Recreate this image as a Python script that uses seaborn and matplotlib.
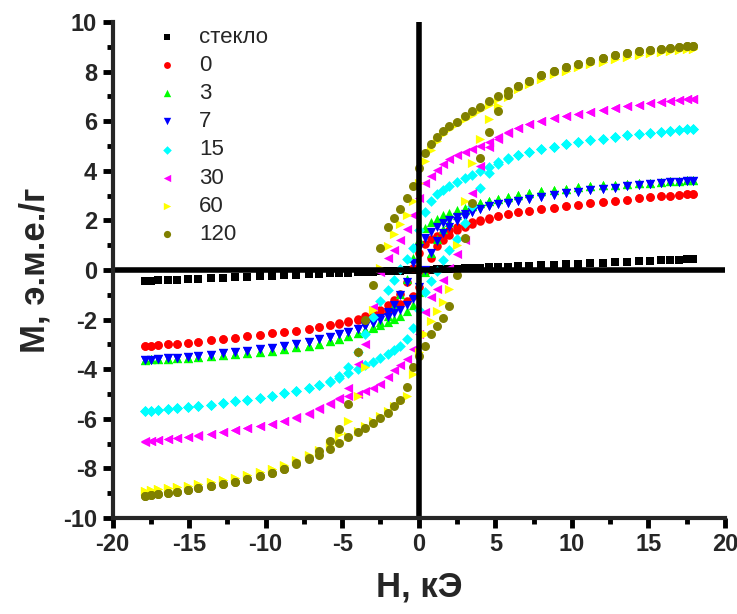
import matplotlib
matplotlib.use("Agg")
import matplotlib.pyplot as plt
import pandas as pd
import seaborn as sns
from matplotlib.ticker import MultipleLocator

# ---------------- data ----------------
H = [-17.9, -17.5, -17.0, -16.4, -15.8, -15.1, -14.4, -13.6, -12.8, -12.0,
     -11.2, -10.4, -9.6, -8.8, -8.0, -7.2, -6.5, -5.8, -5.2, -4.6,
     -4.0, -3.5, -3.0, -2.5, -2.0, -1.6, -1.2, -0.8, -0.4,
     0.0,
     0.4, 0.8, 1.2, 1.6, 2.0, 2.5, 3.0, 3.5, 4.0,
     4.6, 5.2, 5.8, 6.5, 7.2, 8.0, 8.8, 9.6, 10.4, 11.2,
     12.0, 12.8, 13.6, 14.4, 15.1, 15.8, 16.4, 17.0, 17.5, 17.9]

labels = ["стекло", "0", "3", "7", "15", "30", "60", "120"]

M_glass = [-0.44, -0.43, -0.42, -0.40, -0.39, -0.37, -0.35, -0.33, -0.31, -0.29,
           -0.27, -0.25, -0.23, -0.21, -0.19, -0.17, -0.16, -0.14, -0.13, -0.11,
           -0.10, -0.08, -0.07, -0.06, -0.05, -0.04, -0.03, -0.02, -0.01,
           0.00,
           0.01, 0.02, 0.03, 0.04, 0.05, 0.06, 0.07, 0.08, 0.10,
           0.11, 0.13, 0.14, 0.16, 0.17, 0.19, 0.21, 0.23, 0.25, 0.27,
           0.29, 0.31, 0.33, 0.35, 0.37, 0.39, 0.40, 0.42, 0.43, 0.44]

M0_down = [-3.07, -3.05, -3.03, -3.00, -2.97, -2.93, -2.89, -2.84, -2.79, -2.74,
           -2.68, -2.62, -2.56, -2.50, -2.44, -2.37, -2.30, -2.23, -2.15, -2.06,
           -1.96, -1.86, -1.74, -1.60, -1.42, -1.22, -0.95, -0.50, 0.10,
           0.70,
           1.05, 1.25, 1.38, 1.50, 1.60, 1.72, 1.83, 1.92, 2.00,
           2.10, 2.18, 2.26, 2.33, 2.39, 2.45, 2.51, 2.57, 2.63, 2.69,
           2.74, 2.79, 2.84, 2.89, 2.93, 2.97, 3.00, 3.03, 3.05, 3.06]
M0_up = [-3.07, -3.05, -3.03, -3.00, -2.97, -2.93, -2.89, -2.84, -2.79, -2.74,
         -2.68, -2.62, -2.56, -2.50, -2.44, -2.37, -2.30, -2.23, -2.16, -2.08,
         -2.00, -1.92, -1.83, -1.72, -1.60, -1.50, -1.38, -1.25, -1.05,
         -0.70,
         -0.10, 0.50, 0.95, 1.22, 1.42, 1.60, 1.74, 1.86, 1.96,
         2.07, 2.16, 2.24, 2.32, 2.39, 2.45, 2.51, 2.57, 2.63, 2.69,
         2.74, 2.79, 2.84, 2.89, 2.93, 2.97, 3.00, 3.03, 3.05, 3.06]

M3_down = [-3.61, -3.60, -3.59, -3.57, -3.55, -3.53, -3.50, -3.47, -3.43, -3.39,
           -3.35, -3.30, -3.25, -3.19, -3.12, -3.05, -2.97, -2.88, -2.78, -2.66,
           -2.54, -2.42, -2.28, -2.10, -1.85, -1.40, -0.95, -0.35, 0.50,
           1.25,
           1.70, 1.92, 2.07, 2.20, 2.30, 2.40, 2.50, 2.60, 2.70,
           2.80, 2.88, 2.95, 3.03, 3.10, 3.17, 3.23, 3.28, 3.33, 3.37,
           3.41, 3.44, 3.47, 3.50, 3.52, 3.55, 3.57, 3.59, 3.61, 3.62]
M3_up = [-3.61, -3.60, -3.59, -3.57, -3.55, -3.53, -3.50, -3.47, -3.43, -3.39,
         -3.35, -3.30, -3.25, -3.19, -3.12, -3.05, -2.97, -2.88, -2.78, -2.66,
         -2.54, -2.42, -2.32, -2.20, -2.08, -1.98, -1.85, -1.65, -1.40,
         -0.90,
         -0.10, 0.70, 1.25, 1.65, 1.95, 2.20, 2.40, 2.60, 2.70,
         2.80, 2.88, 2.95, 3.03, 3.10, 3.17, 3.23, 3.28, 3.33, 3.37,
         3.41, 3.44, 3.47, 3.50, 3.52, 3.55, 3.57, 3.59, 3.61, 3.62]

M7_down = [-3.63, -3.61, -3.59, -3.56, -3.53, -3.49, -3.45, -3.41, -3.36, -3.31,
           -3.26, -3.20, -3.13, -3.06, -2.98, -2.90, -2.80, -2.70, -2.60, -2.50,
           -2.38, -2.25, -2.12, -1.95, -1.70, -1.40, -1.00, -0.50, 0.30,
           0.90,
           1.30, 1.55, 1.75, 1.90, 2.00, 2.12, 2.25, 2.35, 2.46,
           2.57, 2.66, 2.72, 2.80, 2.88, 2.95, 3.02, 3.09, 3.15, 3.21,
           3.27, 3.32, 3.37, 3.42, 3.46, 3.50, 3.53, 3.56, 3.58, 3.60]
M7_up = [-3.63, -3.61, -3.59, -3.56, -3.53, -3.49, -3.45, -3.41, -3.36, -3.31,
         -3.26, -3.20, -3.13, -3.06, -2.98, -2.90, -2.80, -2.70, -2.60, -2.50,
         -2.38, -2.25, -2.15, -2.02, -1.88, -1.75, -1.60, -1.40, -1.15,
         -0.70,
         0.00, 0.70, 1.15, 1.50, 1.75, 1.98, 2.15, 2.35, 2.46,
         2.57, 2.66, 2.72, 2.80, 2.88, 2.95, 3.02, 3.09, 3.15, 3.21,
         3.27, 3.32, 3.37, 3.42, 3.46, 3.50, 3.53, 3.56, 3.58, 3.60]

M15_down = [-5.70, -5.68, -5.65, -5.62, -5.58, -5.54, -5.49, -5.43, -5.37, -5.30,
            -5.23, -5.15, -5.07, -4.97, -4.86, -4.75, -4.63, -4.48, -4.28, -3.90,
            -3.30, -2.60, -1.90, -1.25, -0.80, -0.40, 0.05, 0.45, 0.90,
            1.60,
            2.35, 2.80, 3.05, 3.22, 3.38, 3.55, 3.70, 3.85, 4.00,
            4.17, 4.35, 4.50, 4.63, 4.75, 4.86, 4.97, 5.07, 5.15, 5.23,
            5.30, 5.37, 5.43, 5.49, 5.54, 5.58, 5.62, 5.65, 5.68, 5.70]
M15_up = [-5.70, -5.68, -5.65, -5.62, -5.58, -5.54, -5.49, -5.43, -5.37, -5.30,
          -5.23, -5.15, -5.07, -4.97, -4.86, -4.75, -4.63, -4.50, -4.35, -4.17,
          -4.00, -3.85, -3.70, -3.55, -3.38, -3.22, -3.05, -2.80, -2.35,
          -1.60,
          -0.90, -0.45, -0.05, 0.40, 0.80, 1.25, 1.90, 2.60, 3.30,
          3.90, 4.28, 4.48, 4.63, 4.75, 4.86, 4.97, 5.07, 5.15, 5.23,
          5.30, 5.37, 5.43, 5.49, 5.54, 5.58, 5.62, 5.65, 5.68, 5.70]

M30_down = [-6.90, -6.88, -6.85, -6.81, -6.77, -6.72, -6.66, -6.60, -6.53, -6.46,
            -6.39, -6.30, -6.20, -6.07, -5.94, -5.78, -5.58, -5.36, -5.15, -4.75,
            -3.80, -3.00, -1.50, -0.10, 0.50, 0.80, 1.20, 1.65, 2.20,
            2.90,
            3.50, 3.80, 4.05, 4.28, 4.47, 4.62, 4.76, 4.88, 5.00,
            5.18, 5.38, 5.56, 5.73, 5.87, 6.00, 6.12, 6.22, 6.31, 6.39,
            6.46, 6.53, 6.60, 6.66, 6.72, 6.77, 6.81, 6.85, 6.88, 6.90]
M30_up = [-6.92, -6.90, -6.87, -6.83, -6.79, -6.74, -6.68, -6.61, -6.54, -6.46,
          -6.39, -6.30, -6.21, -6.07, -5.95, -5.80, -5.62, -5.40, -5.22, -5.08,
          -4.98, -4.88, -4.74, -4.60, -4.30, -4.05, -3.85, -3.60, -3.20,
          -2.60,
          -1.70, -1.10, -0.75, -0.40, 0.10, 0.65, 1.20, 3.10, 4.20,
          4.95, 5.30, 5.52, 5.72, 5.87, 6.00, 6.12, 6.22, 6.31, 6.39,
          6.46, 6.53, 6.60, 6.66, 6.72, 6.77, 6.81, 6.85, 6.88, 6.90]

M60_down = [-8.90, -8.88, -8.85, -8.81, -8.76, -8.70, -8.63, -8.55, -8.46, -8.37,
            -8.27, -8.16, -8.03, -7.87, -7.68, -7.47, -7.25, -6.98, -6.62, -6.10,
            -5.10, -3.90, -1.60, 0.10, 0.95, 1.45, 1.85, 2.20, 2.80,
            3.50,
            4.40, 4.85, 5.20, 5.48, 5.68, 5.87, 6.07, 6.26, 6.45,
            6.67, 6.88, 7.08, 7.30, 7.50, 7.71, 7.89, 8.04, 8.17, 8.29,
            8.40, 8.50, 8.59, 8.67, 8.74, 8.79, 8.83, 8.87, 8.90, 8.92]
M60_up = [-8.90, -8.88, -8.85, -8.81, -8.76, -8.70, -8.63, -8.55, -8.46, -8.37,
          -8.27, -8.16, -8.03, -7.89, -7.71, -7.50, -7.30, -7.10, -6.90, -6.70,
          -6.48, -6.30, -6.10, -5.90, -5.70, -5.50, -5.33, -5.10, -4.20,
          -3.30,
          -2.60, -2.05, -1.65, -1.30, -0.75, 1.00, 2.80, 4.30, 5.30,
          6.10, 6.60, 6.98, 7.28, 7.50, 7.71, 7.89, 8.04, 8.17, 8.29,
          8.40, 8.50, 8.59, 8.67, 8.74, 8.79, 8.83, 8.87, 8.90, 8.92]

M120_down = [-9.12, -9.09, -9.05, -9.00, -8.94, -8.87, -8.80, -8.72, -8.64, -8.55,
             -8.44, -8.32, -8.19, -8.01, -7.80, -7.58, -7.30, -6.90, -6.40, -5.40,
             -3.30, -2.00, -0.60, 0.90, 1.75, 2.10, 2.45, 2.90, 3.40,
             4.10,
             4.72, 5.10, 5.35, 5.62, 5.82, 5.98, 6.20, 6.40, 6.58,
             6.80, 7.00, 7.20, 7.43, 7.63, 7.85, 8.03, 8.19, 8.32, 8.44,
             8.55, 8.65, 8.74, 8.82, 8.88, 8.93, 8.97, 9.00, 9.03, 9.05]
M120_up = [-9.12, -9.09, -9.05, -9.00, -8.94, -8.87, -8.80, -8.72, -8.64, -8.55,
           -8.44, -8.32, -8.20, -8.02, -7.82, -7.62, -7.45, -7.22, -6.98, -6.75,
           -6.55, -6.37, -6.18, -5.98, -5.75, -5.50, -5.25, -4.70, -3.90,
           -3.45,
           -3.06, -2.60, -2.25, -1.95, -1.45, -0.20, 1.30, 2.70, 4.50,
           5.55, 6.40, 7.05, 7.42, 7.63, 7.85, 8.03, 8.19, 8.32, 8.44,
           8.55, 8.65, 8.74, 8.82, 8.88, 8.93, 8.97, 9.00, 9.03, 9.05]

branches = [(M_glass, M_glass), (M0_down, M0_up), (M3_down, M3_up), (M7_down, M7_up),
            (M15_down, M15_up), (M30_down, M30_up), (M60_down, M60_up),
            (M120_down, M120_up)]

colors = ["#000000", "#FF0000", "#00FF00", "#0000FF", "#00FFFF", "#FF00FF",
          "#FFFF00", "#808000"]
markers = ["s", "o", "^", "v", "D", "<", ">", "o"]
sizes = [28, 38, 44, 44, 30, 44, 44, 42]

# ---------------- style ----------------
sns.set_style("ticks")
plt.rcParams['font.family'] = ['Liberation Sans', 'DejaVu Sans']
plt.rcParams['axes.unicode_minus'] = False

fig = plt.figure(figsize=(7.37, 6.14), dpi=100)
ax = fig.add_axes([112.5 / 737, 1 - 518 / 614, (725 - 112.5) / 737, (518 - 22) / 614])

for i, lab in enumerate(labels):
    down, up = branches[i]
    if i == 0:
        df = pd.DataFrame({"H": H, "M": down})
    else:
        df = pd.DataFrame({"H": H + H, "M": down + up})
    sns.scatterplot(data=df, x="H", y="M", color=colors[i], marker=markers[i],
                    s=sizes[i], linewidth=0, ax=ax, label=lab, zorder=2 + i * 0.1,
                    legend=False)

ax.axhline(0, color="black", lw=4, zorder=5)
ax.axvline(0, color="black", lw=4, zorder=5)

ax.set_xlim(-20, 20)
ax.set_ylim(-10, 10)
ax.xaxis.set_major_locator(MultipleLocator(5))
ax.xaxis.set_minor_locator(MultipleLocator(2.5))
ax.yaxis.set_major_locator(MultipleLocator(2))
ax.yaxis.set_minor_locator(MultipleLocator(1))

for s in ["top", "right"]:
    ax.spines[s].set_visible(False)
for s in ["left", "bottom"]:
    ax.spines[s].set_linewidth(3)
    ax.spines[s].set_zorder(6)

ax.tick_params(which="major", direction="out", length=7, width=3.5, pad=4,
               labelsize=17, color="black")
ax.tick_params(which="minor", direction="out", length=4.5, width=3.5, color="black")
for t in ax.get_xticklabels() + ax.get_yticklabels():
    t.set_fontweight("bold")

ax.set_xlabel("H, кЭ", fontsize=25, fontweight="bold", labelpad=10)
ax.set_ylabel("M, э.м.е./г", fontsize=25, fontweight="bold", labelpad=8)

handles, labs = ax.get_legend_handles_labels()
fig.legend(handles, labs, loc="upper left", bbox_to_anchor=(156 / 737, 1 - 27 / 614),
           bbox_transform=fig.transFigure, frameon=False,
           prop={"size": 16, "weight": "normal"}, handlelength=1.0,
           handletextpad=0.95, labelspacing=0.32, borderpad=0, borderaxespad=0,
           markerscale=0.8)

fig.savefig("out.png", dpi=100)
